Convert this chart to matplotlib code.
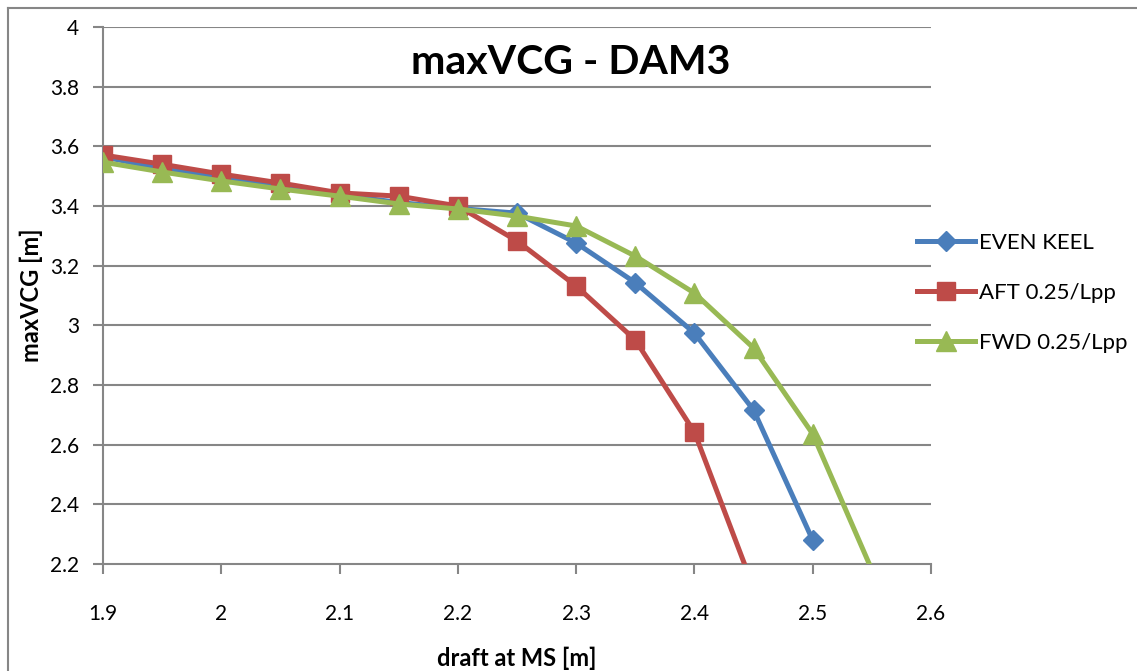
import matplotlib
matplotlib.use("Agg")
import matplotlib.pyplot as plt
from matplotlib.lines import Line2D
import numpy as np

plt.rcParams['font.family'] = ['Lato', 'DejaVu Sans']

# draft at midship [m]
draft_even = [1.90, 1.95, 2.00, 2.05, 2.10, 2.15, 2.20, 2.25, 2.30, 2.35, 2.40, 2.45, 2.50]
vcg_even = [3.565, 3.525, 3.495, 3.465, 3.437, 3.412, 3.392, 3.376, 3.276, 3.143, 2.974, 2.716, 2.280]

draft_aft = [1.90, 1.95, 2.00, 2.05, 2.10, 2.15, 2.20, 2.25, 2.30, 2.35, 2.40, 2.45]
vcg_aft = [3.571, 3.540, 3.507, 3.477, 3.444, 3.433, 3.400, 3.283, 3.132, 2.951, 2.642, 2.120]

draft_fwd = [1.90, 1.95, 2.00, 2.05, 2.10, 2.15, 2.20, 2.25, 2.30, 2.35, 2.40, 2.45, 2.50, 2.55]
vcg_fwd = [3.547, 3.514, 3.484, 3.457, 3.433, 3.407, 3.390, 3.366, 3.333, 3.232, 3.108, 2.924, 2.636, 2.180]

series_names = ["EVEN KEEL", "AFT 0.25/Lpp", "FWD 0.25/Lpp"]
x_ticks = [1.9, 2.0, 2.1, 2.2, 2.3, 2.4, 2.5, 2.6]
y_ticks = [2.2, 2.4, 2.6, 2.8, 3.0, 3.2, 3.4, 3.6, 3.8, 4.0]

colors = ["#4A7EBB", "#BE4B48", "#98B954"]
markers = ["D", "s", "^"]
msizes = [10.5, 13, 14]

fig = plt.figure(figsize=(11.37, 6.71), dpi=100)
ax = fig.add_axes([103 / 1137, 1 - 564 / 671, (931 - 103) / 1137, (564 - 27) / 671])

ymin, ymax = 2.2, 4.0
grid_c = "#868686"

for xs, ys, c, m, ms, name in zip([draft_even, draft_aft, draft_fwd],
                                  [vcg_even, vcg_aft, vcg_fwd],
                                  colors, markers, msizes, series_names):
    ys_arr = np.asarray(ys)
    visible = list(np.where(ys_arr >= ymin)[0])
    ax.plot(xs, ys, color=c, lw=3.6, marker=m, ms=ms, markevery=visible,
            markerfacecolor=c, markeredgecolor=c, solid_joinstyle='round',
            label=name, zorder=3)

ax.set_xlim(1.9, 2.6)
ax.set_ylim(ymin, ymax)
ax.set_xticks(x_ticks)
ax.set_yticks(y_ticks)
ax.set_xticklabels([f"{v:g}" for v in x_ticks])
ax.set_yticklabels([f"{v:g}" for v in y_ticks])

for v in y_ticks[1:]:
    ax.axhline(v, color=grid_c, lw=1.5, zorder=1)

for s in ["top", "right"]:
    ax.spines[s].set_visible(False)
for s in ["left", "bottom"]:
    ax.spines[s].set_color(grid_c)
    ax.spines[s].set_linewidth(1.5)

ax.tick_params(axis='both', direction='out', length=7, width=1.5, color=grid_c,
               labelsize=15, labelcolor='black')
ax.tick_params(axis='y', pad=10)
ax.tick_params(axis='x', pad=22)

ax.set_xlabel("draft at MS [m]", fontsize=17, fontweight='bold', va='center')
ax.xaxis.set_label_coords(0.5, -(658 - 564) / 537)
ax.set_ylabel("maxVCG [m]", fontsize=17, fontweight='bold', va='center')
ax.yaxis.set_label_coords(-(103 - 31) / 828, 0.5)

fig.text(571 / 1137, 1 - 62 / 671, "maxVCG - DAM3", fontsize=29.5, fontweight='bold',
         ha='center', va='center')

handles = [Line2D([], [], color=c, lw=3.6, marker=m, ms=ms,
                  markerfacecolor=c, markeredgecolor=c)
           for c, m, ms in zip(colors, markers, msizes)]
fig.legend(handles, series_names, loc='upper left',
           bbox_to_anchor=(908 / 1137, 1 - 224 / 671),
           frameon=False, fontsize=16, handlelength=2.6, handletextpad=0.2,
           labelspacing=1.35, borderaxespad=0)

# outer chart frame
fig.add_artist(Line2D([8 / 1137, 8 / 1137], [0, 1 - 8 / 671], color=grid_c,
                      lw=1.5, transform=fig.transFigure))
fig.add_artist(Line2D([8 / 1137, 1], [1 - 8 / 671, 1 - 8 / 671], color=grid_c,
                      lw=1.5, transform=fig.transFigure))

fig.savefig("out.png", dpi=100)
